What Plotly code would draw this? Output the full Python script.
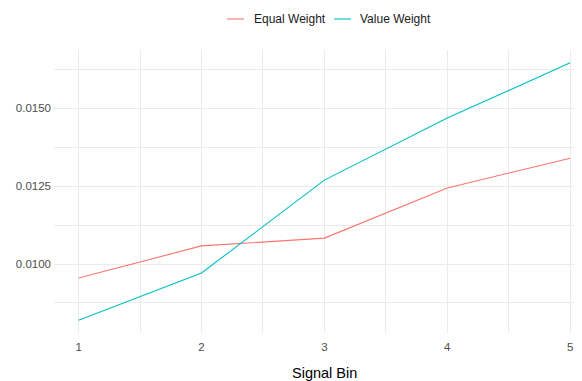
import plotly.graph_objects as go

signal_bins = [1, 2, 3, 4, 5]
equal_weight = [0.00955, 0.01058, 0.01083, 0.01244, 0.01339]
value_weight = [0.00820, 0.00971, 0.01269, 0.01468, 0.01645]
series_names = ["Equal Weight", "Value Weight"]
series_colors = ["#F8766D", "#00BFC4"]
y_tick_vals = [0.0100, 0.0125, 0.0150]

# page has an 8px body margin; work in page pixels, convert to figure pixels
OFF = 8
PAGE_W, PAGE_H = 582, 381
W, H = PAGE_W - OFF, PAGE_H - OFF
P_LEFT, P_RIGHT, P_TOP, P_BOTTOM = 54, 582, 50, 333
ML, MT = P_LEFT - OFF, P_TOP - OFF
MR = PAGE_W - P_RIGHT
MB = PAGE_H - P_BOTTOM
pw, ph = W - ML - MR, H - MT - MB

# ggplot-like 5% expansion
ymin = min(equal_weight + value_weight)
ymax = max(equal_weight + value_weight)
ypad = 0.05 * (ymax - ymin)
x_lo = 1 - 0.05 * 4
px_per_unit = 122.9
x_hi = x_lo + pw / px_per_unit

fig = go.Figure()
for name, vals, col in zip(series_names, [equal_weight, value_weight], series_colors):
    fig.add_trace(go.Scatter(x=signal_bins, y=vals, mode="lines", name=name,
                             line=dict(color=col, width=1.1), showlegend=False,
                             cliponaxis=False))

def px_to_paper_x(px):
    return (px - P_LEFT) / pw

def px_to_paper_y(py):
    return (P_BOTTOM - py) / ph

shapes = []
annotations = []
legend_items = [(227, 244, 254), (334, 351, 360)]
for (k0, k1, tx), name, col in zip(legend_items, series_names, series_colors):
    shapes.append(dict(type="line", xref="paper", yref="paper",
                       x0=px_to_paper_x(k0), x1=px_to_paper_x(k1),
                       y0=px_to_paper_y(19), y1=px_to_paper_y(19),
                       line=dict(color=col, width=1.1)))
    annotations.append(dict(text=name, xref="paper", yref="paper",
                            x=px_to_paper_x(tx - 2), y=px_to_paper_y(19.5),
                            xanchor="left", yanchor="middle", showarrow=False,
                            font=dict(family="Liberation Sans, Arial", size=12, color="#1A1A1A")))

annotations.append(dict(text="Signal Bin", xref="paper", yref="paper",
                        x=px_to_paper_x(324), y=px_to_paper_y(373),
                        xanchor="center", yanchor="middle", showarrow=False,
                        font=dict(family="Liberation Sans, Arial", size=14.5, color="#000000")))

fig.update_layout(
    width=W, height=H,
    margin=dict(l=ML, r=MR, t=MT, b=MB, autoexpand=False),
    paper_bgcolor="white", plot_bgcolor="white",
    shapes=shapes, annotations=annotations,
    showlegend=False,
    font=dict(family="Liberation Sans, Arial"),
)
fig.update_xaxes(
    range=[x_lo, x_hi], tickvals=signal_bins, ticktext=[str(v) for v in signal_bins],
    showgrid=True, gridcolor="#EBEBEB", gridwidth=1.1,
    minor=dict(dtick=1, tick0=0.5, showgrid=True, gridcolor="#EBEBEB", gridwidth=0.6),
    zeroline=False, showline=False, ticks="", automargin=False,
    ticklabelstandoff=5,
    tickfont=dict(size=11.5, color="#4D4D4D"),
)
fig.update_yaxes(
    range=[ymin - ypad, ymax + ypad], tickvals=y_tick_vals, tickformat=".4f",
    showgrid=True, gridcolor="#EBEBEB", gridwidth=1.1,
    minor=dict(dtick=0.0025, tick0=0.00875, showgrid=True, gridcolor="#EBEBEB", gridwidth=0.6),
    zeroline=False, showline=False, ticks="", automargin=False,
    ticklabelstandoff=2,
    tickfont=dict(size=11.5, color="#4D4D4D"),
)

fig.write_html("out.html")
